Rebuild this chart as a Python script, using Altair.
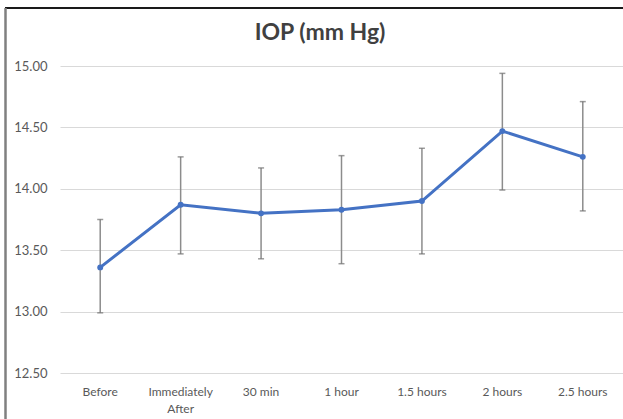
import altair as alt
import pandas as pd

categories = ["Before", "Immediately After", "30 min", "1 hour", "1.5 hours", "2 hours", "2.5 hours"]
means = [13.36, 13.87, 13.80, 13.83, 13.90, 14.47, 14.26]
upper = [13.75, 14.26, 14.17, 14.27, 14.33, 14.94, 14.71]
lower = [12.99, 13.47, 13.43, 13.39, 13.47, 13.99, 13.82]
y_ticks = [12.5, 13.0, 13.5, 14.0, 14.5, 15.0]
title_text = "IOP (mm Hg)"

df = pd.DataFrame({"cat": categories, "mean": means, "hi": upper, "lo": lower})

W, H = 563, 307
PL, PT = 60, 66
FONT = "Lato"
GREY = "#595959"

x = alt.X("cat:N", sort=categories, title=None,
          axis=alt.Axis(labelAngle=0, ticks=False, domain=False, grid=False,
                        labelFont=FONT, labelFontSize=12, labelColor=GREY,
                        labelPadding=13, labelLineHeight=17,
                        labelExpr="datum.value == 'Immediately After' ? ['Immediately', 'After'] : datum.value"))
yscale = alt.Scale(domain=[12.5, 15.0], nice=False, zero=False)
y = alt.Y("mean:Q", scale=yscale, title=None,
          axis=alt.Axis(values=y_ticks, format=".2f", ticks=False, domain=False,
                        grid=True, gridColor="#d9d9d9", gridWidth=1,
                        labelFont=FONT, labelFontSize=13, labelColor=GREY,
                        labelPadding=13))

base = alt.Chart(df)

err = base.mark_rule(color="#8c8c8c", strokeWidth=1.5).encode(
    x=x, y=alt.Y("lo:Q", scale=yscale), y2="hi:Q")
cap_hi = base.mark_tick(color="#707070", orient="horizontal", size=6, thickness=1.5).encode(
    x=x, y=alt.Y("hi:Q", scale=yscale))
cap_lo = base.mark_tick(color="#707070", orient="horizontal", size=6, thickness=1.5).encode(
    x=x, y=alt.Y("lo:Q", scale=yscale))
line = base.mark_line(color="#4472C4", strokeWidth=3).encode(x=x, y=y)
pts = base.mark_point(color="#4472C4", filled=True, size=35, opacity=1).encode(x=x, y=y)

frame_df = pd.DataFrame({"t": [title_text]})
top_border = alt.Chart(frame_df).mark_rule(color="#1a1a1a", strokeWidth=2).encode(
    x=alt.value(5 - PL), x2=alt.value(W + 10), y=alt.value(8 - PT))
left_border = alt.Chart(frame_df).mark_rule(color="#808080", strokeWidth=2.5).encode(
    x=alt.value(5.5 - PL), y=alt.value(8 - PT), y2=alt.value(H + 60))
title = alt.Chart(frame_df).mark_text(font=FONT, fontSize=23, fontWeight="bold",
                                      color="#404040", align="center", baseline="middle").encode(
    text="t:N", x=alt.value(320 - PL), y=alt.value(33 - PT))

chart = alt.layer(err, cap_hi, cap_lo, line, pts, top_border, left_border, title).properties(
    width=W, height=H,
    autosize=alt.AutoSizeParams(type="none"),
    padding={"left": PL, "top": PT, "right": 0, "bottom": 419 - PT - H},
).configure_view(stroke=None)

chart.save("out.html", embed_options={"renderer": "svg", "actions": False})
